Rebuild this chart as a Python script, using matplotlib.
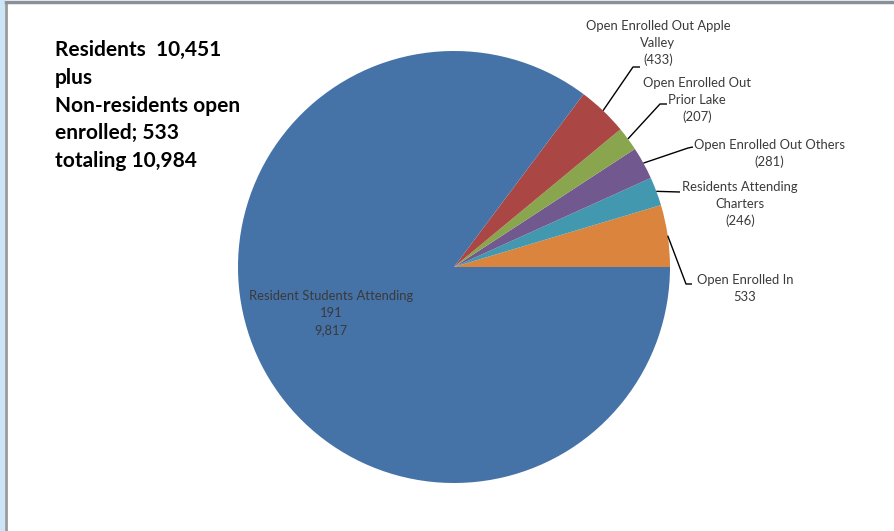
import numpy as np
import matplotlib.pyplot as plt
from matplotlib.patches import Rectangle
from matplotlib.lines import Line2D

# enrolment breakdown, drawn counter-clockwise from 3 o'clock
categories = ['Open Enrolled In', 'Residents Attending Charters',
              'Open Enrolled Out Others', 'Open Enrolled Out Prior Lake',
              'Open Enrolled Out Apple Valley', 'Resident Students Attending']
values = [533, 246, 281, 207, 433, 9817]
labels = ['Open Enrolled In\n533',
          'Residents Attending\nCharters\n(246)',
          'Open Enrolled Out Others\n(281)',
          'Open Enrolled Out\nPrior Lake\n(207)',
          'Open Enrolled Out Apple\nValley\n(433)',
          'Resident Students Attending\n191\n9,817']
colors = ['#DB843D', '#4198AF', '#71588F', '#89A54E', '#AA4643', '#4572A7']

summary = 'Residents  10,451\nplus\nNon-residents open\nenrolled; 533\ntotaling 10,984'

W, H = 894, 531
fig = plt.figure(figsize=(W / 100, H / 100), dpi=100)
fig.patch.set_facecolor('white')

# slide frame: blue strip on the left, grey border lines
fig.add_artist(Rectangle((0, 0), 5 / W, 1, transform=fig.transFigure,
                         facecolor='#cde5f9', edgecolor='none'))
fig.add_artist(Line2D([6 / W, 6 / W], [0, 1 - 2 / H], transform=fig.transFigure,
                      color='#9a9a9a', lw=2))
fig.add_artist(Line2D([6 / W, 1], [1 - 2 / H, 1 - 2 / H], transform=fig.transFigure,
                      color='#8a9099', lw=2.5))

# pie centre (454, 267) px, radius 216 px -> 1 data unit
cx, cy, r = 454, 267, 216
ax = fig.add_axes([(cx - r) / W, (H - cy - r) / H, 2 * r / W, 2 * r / H])
wedges, _ = ax.pie(values, colors=colors, startangle=0, counterclock=True,
                   radius=1, wedgeprops=dict(linewidth=0))
ax.set_xlim(-1, 1)
ax.set_ylim(-1, 1)
ax.axis('off')


def px(x, y):
    return (x - cx) / r, (cy - y) / r


font = dict(family='Lato', size=9.4, color='#3a3a3a')

# leader elbows / ends and label centres (pixel layout)
leaders = [
    [(686, 284), (692, 284)],
    [(680, 192)],
    [(688, 148), (693, 147)],
    [(660, 104), (667, 104)],
    [(633, 67), (640, 67)],
]
label_pos = [(745, 288.5), (740, 204), (769, 153.5), (697, 100), (658, 43)]

for i, w in enumerate(wedges[:5]):
    mid = np.deg2rad((w.theta1 + w.theta2) / 2)
    pts = [(np.cos(mid), np.sin(mid))] + [px(*p) for p in leaders[i]]
    xs, ys = zip(*pts)
    ax.plot(xs, ys, color='black', lw=1, clip_on=False, solid_capstyle='butt')
    lx, ly = px(*label_pos[i])
    ax.text(lx, ly, labels[i], ha='center', va='center', linespacing=1.48,
            clip_on=False, **font)

# label inside the big slice
lx, ly = px(331, 313)
ax.text(lx, ly, labels[5], ha='center', va='center', linespacing=1.55, **font)

fig.text(55 / W, 1 - 105.5 / H, summary, ha='left', va='center',
         family='Lato', fontweight='bold', fontsize=15, color='black',
         linespacing=1.47)

fig.savefig('out.png', dpi=100)
